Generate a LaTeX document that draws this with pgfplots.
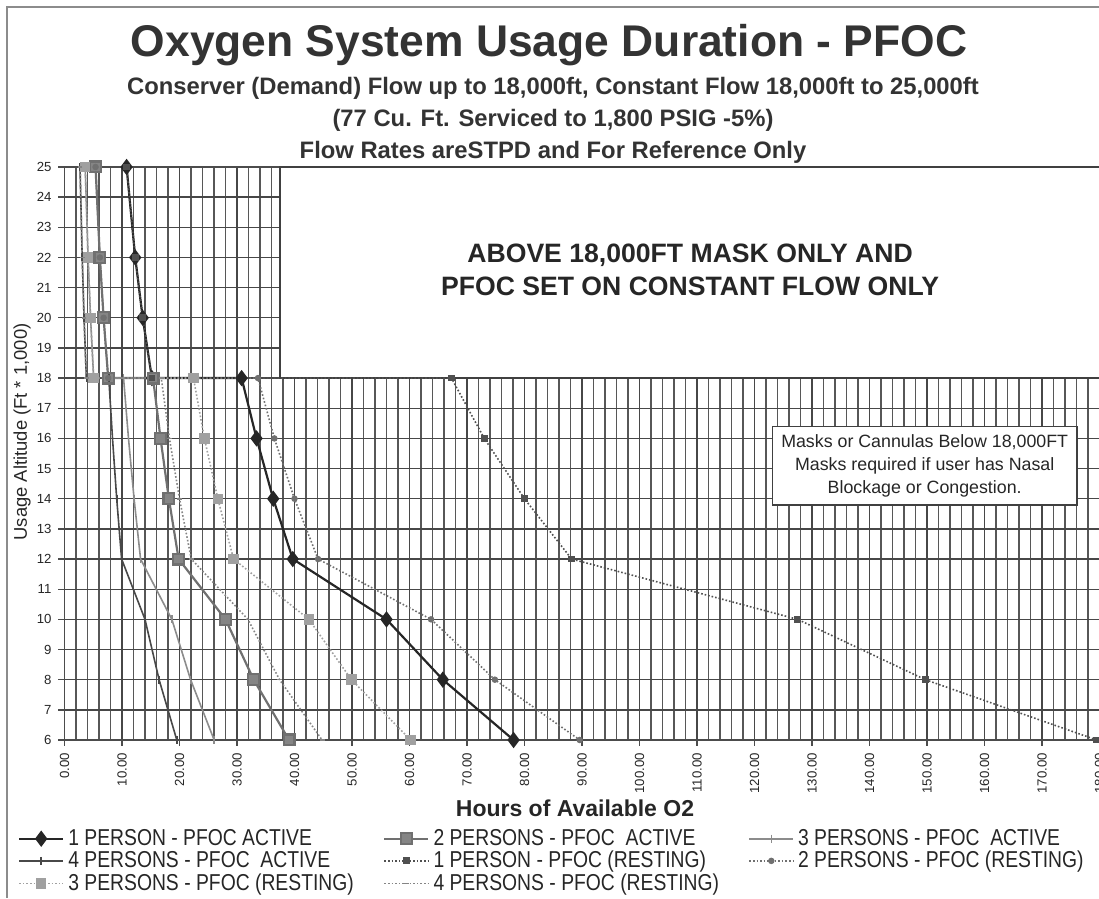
\documentclass[border=0pt]{standalone}
\usepackage{fontspec}
\setmainfont{Liberation Sans}
\newfontfamily\narrowfont[FakeStretch=0.84]{Liberation Sans}
\usepackage{pgfplots}
\pgfplotsset{compat=1.18}
\definecolor{cA}{HTML}{262626}
\definecolor{cB}{HTML}{707070}
\definecolor{cC}{HTML}{8C8C8C}
\definecolor{cD}{HTML}{484848}
\definecolor{rA}{HTML}{505050}
\definecolor{rB}{HTML}{707070}
\definecolor{rC}{HTML}{A0A0A0}
\definecolor{rD}{HTML}{858585}
\begin{document}
\begin{tikzpicture}[x=0.5pt,y=0.5pt]
\useasboundingbox (0,0) rectangle (1099,899);
\draw[black!45, line width=0.8pt] (7,1) -- (7,892) -- (1110,892);
\node[font=\fontsize{22.2}{26}\selectfont\bfseries, text=black!80] at (549,854) {Oxygen System Usage Duration - PFOC};
\node[font=\fontsize{11.9}{13}\selectfont\bfseries, text=black!80] at (553,811) {Conserver (Demand) Flow up to 18,000ft, Constant Flow 18,000ft to 25,000ft};
\node[font=\fontsize{11.9}{13}\selectfont\bfseries, text=black!80] at (553,779) {(77 Cu. Ft. Serviced to 1,800 PSIG -5\%)};
\node[font=\fontsize{11.9}{13}\selectfont\bfseries, text=black!80] at (553,747) {Flow Rates areSTPD and For Reference Only};
\node[rotate=90, font=\fontsize{9.2}{10}\selectfont, text=black!85] at (22,467) {Usage Altitude (Ft * 1,000)};
\node[font=\fontsize{11.5}{13}\selectfont\bfseries, text=black!85] at (575,91) {Hours of Available O2};
\begin{axis}[
  at={(32.25pt,79.5pt)}, anchor=south west,
  width=517.5pt, height=286.5pt, scale only axis,
  xmin=0, xmax=180, ymin=6, ymax=25,
  xtick={0,10,...,180}, minor x tick num=4,
  ytick={6,7,...,25},
  tick pos=left,
  grid=both,
  major grid style={black!72, line width=0.7pt},
  minor grid style={black!66, line width=0.6pt},
  axis line style={black!70, line width=0.8pt},
  tick align=outside, major tick length=3pt, minor tick length=0pt,
  tick style={black!70, line width=0.7pt},
  xticklabel style={rotate=90, anchor=east, font=\fontsize{6.6}{8}\selectfont, text=black!85,
    /pgf/number format/.cd, fixed, fixed zerofill, precision=2, assume math mode=true},
  yticklabel style={font=\fontsize{6.6}{8}\selectfont, text=black!85,
    /pgf/number format/assume math mode=true},
  legend columns=3,
  legend cell align=left,
  legend style={at={(-0.051,-0.141)}, anchor=north west, draw=none, fill=none,
    font=\narrowfont\fontsize{11.5}{13}\selectfont, text=black!85,
    row sep=-2.6pt,
    /tikz/every odd column/.append style={column sep=0pt}},
  legend image code/.code={\draw[mark repeat=2,mark phase=2,#1] plot coordinates {(0pt,0pt) (11pt,0pt) (22pt,0pt)};},
]
\fill[white] (axis cs:37.5,18) rectangle (axis cs:190,25);
\draw[black!75, line width=0.8pt] (axis cs:190,18) -- (axis cs:37.5,18) -- (axis cs:37.5,25) -- (axis cs:190,25);
% 1 person active
\addplot[cA, line width=1.1pt, mark=diamond*, mark size=3.2pt, mark options={solid, fill=cA}] coordinates {
(10.8,25)(12.3,22)(13.6,20)(15.2,18)(30.8,18)(33.4,16)(36.3,14)(39.7,12)(56.0,10)(65.8,8)(78.1,6)};
\addlegendentry{\makebox[155.5pt][l]{1 PERSON - PFOC ACTIVE}}
% 2 persons active
\addplot[cB, line width=1.1pt, mark=square*, mark size=2.7pt, mark options={solid, fill=cB!85}] coordinates {
(5.4,25)(6.15,22)(6.8,20)(7.6,18)(15.4,18)(16.7,16)(18.15,14)(19.85,12)(28.0,10)(32.9,8)(39.05,6)};
\addlegendentry{\makebox[155.5pt][l]{2 PERSONS - PFOC \ ACTIVE}}
% 3 persons active
\addplot[cC, line width=0.8pt, mark=|, mark size=2pt, mark options={solid}] coordinates {
(3.6,25)(4.1,22)(4.53,20)(5.07,18)(10.27,18)(11.13,16)(12.1,14)(13.23,12)(18.67,10)(21.93,8)(26.03,6)};
\addlegendentry{3 PERSONS - PFOC \ ACTIVE}
% 4 persons active
\addplot[cD, line width=0.8pt, mark=|, mark size=2pt, mark options={solid}] coordinates {
(2.7,25)(3.08,22)(3.4,20)(3.8,18)(7.7,18)(8.35,16)(9.08,14)(9.93,12)(14.0,10)(16.45,8)(19.53,6)};
\addlegendentry{\makebox[155.5pt][l]{4 PERSONS - PFOC \ ACTIVE}}
% 1 person resting
\addplot[rA, line width=0.8pt, densely dotted, mark=square*, mark size=1.3pt, mark options={solid, fill=rA}] coordinates {
(10.8,25)(12.3,22)(13.6,20)(15.2,18)(67.3,18)(73.0,16)(80.0,14)(88.2,12)(127.5,10)(149.7,8)(179.5,6)};
\addlegendentry{\makebox[155.5pt][l]{1 PERSON - PFOC (RESTING)}}
% 2 persons resting
\addplot[rB, line width=0.8pt, densely dotted, mark=*, mark size=1.2pt, mark options={solid, fill=rB}] coordinates {
(5.4,25)(6.15,22)(6.8,20)(7.6,18)(33.65,18)(36.5,16)(40.0,14)(44.1,12)(63.75,10)(74.85,8)(89.6,6)};
\addlegendentry{2 PERSONS - PFOC (RESTING)}
% 3 persons resting
\addplot[rC, line width=0.8pt, densely dotted, mark=square*, mark size=2.2pt, mark options={solid, fill=rC}] coordinates {
(3.6,25)(4.1,22)(4.53,20)(5.07,18)(22.43,18)(24.33,16)(26.67,14)(29.4,12)(42.5,10)(49.9,8)(60.2,6)};
\addlegendentry{\makebox[155.5pt][l]{3 PERSONS - PFOC (RESTING)}}
% 4 persons resting
\addplot[rD, line width=0.8pt, densely dotted, mark=-, mark size=1.2pt, mark options={solid}] coordinates {
(2.7,25)(3.08,22)(3.4,20)(3.8,18)(16.83,18)(18.25,16)(20.0,14)(22.05,12)(31.9,10)(37.4,8)(44.8,6)};
\addlegendentry{\makebox[155.5pt][l]{4 PERSONS - PFOC (RESTING)}}
\node[font=\fontsize{13.3}{16.5}\selectfont\bfseries, text=black!85, align=center] at (axis cs:108.8,21.6) {ABOVE 18,000FT MASK ONLY AND\\PFOC SET ON CONSTANT FLOW ONLY};
\node[draw=black!75, line width=0.7pt, fill=white, font=\fontsize{8.9}{11.5}\selectfont, text=black!85, align=center, inner xsep=4.5pt, inner ysep=4pt] at (axis cs:149.6,15.1) {Masks or Cannulas Below 18,000FT\\Masks required if user has Nasal\\Blockage or Congestion.};
\end{axis}
\end{tikzpicture}
\end{document}
